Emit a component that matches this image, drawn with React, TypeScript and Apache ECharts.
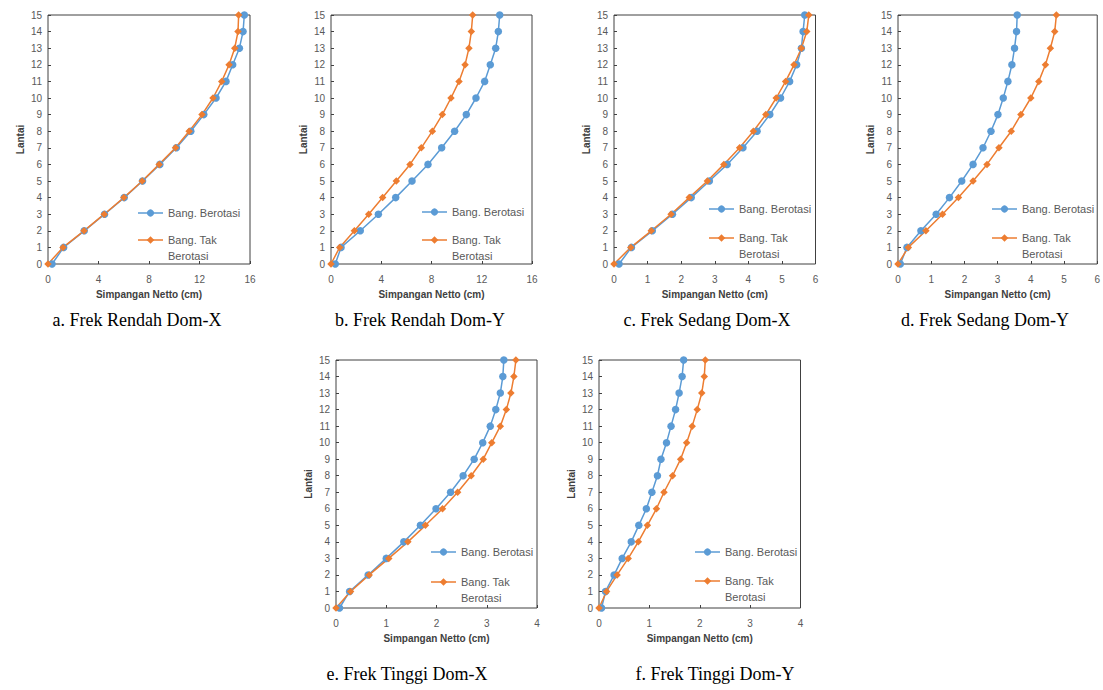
import React, { useEffect, useRef } from "react";
import * as echarts from "echarts";

// Floors (Lantai)
const floors = [0, 1, 2, 3, 4, 5, 6, 7, 8, 9, 10, 11, 12, 13, 14, 15];

// Simpangan Netto (cm) per floor
const aRot = [0.32, 1.24, 2.87, 4.48, 6.04, 7.49, 8.86, 10.17, 11.31, 12.34, 13.31, 14.1, 14.63, 15.16, 15.45, 15.55];
const aTak = [0, 1.19, 2.85, 4.45, 6.01, 7.46, 8.8, 10.1, 11.18, 12.2, 13.07, 13.76, 14.34, 14.79, 15.05, 15.1];
const bRot = [0.34, 0.8, 2.33, 3.77, 5.15, 6.45, 7.72, 8.81, 9.84, 10.77, 11.54, 12.23, 12.68, 13.11, 13.32, 13.43];
const bTak = [0, 0.69, 1.86, 3.0, 4.11, 5.2, 6.29, 7.19, 8.07, 8.86, 9.55, 10.19, 10.67, 10.98, 11.17, 11.28];
const cRot = [0.15, 0.52, 1.14, 1.74, 2.3, 2.84, 3.37, 3.84, 4.26, 4.64, 4.96, 5.23, 5.44, 5.58, 5.63, 5.68];
const cTak = [0, 0.5, 1.11, 1.7, 2.24, 2.78, 3.27, 3.74, 4.15, 4.52, 4.83, 5.11, 5.36, 5.58, 5.74, 5.8];
const dRot = [0.07, 0.27, 0.69, 1.15, 1.55, 1.92, 2.26, 2.56, 2.8, 3.01, 3.17, 3.31, 3.43, 3.51, 3.57, 3.59];
const dTak = [0, 0.31, 0.84, 1.34, 1.82, 2.26, 2.68, 3.04, 3.41, 3.7, 4.0, 4.24, 4.44, 4.59, 4.72, 4.77];
const eRot = [0.07, 0.27, 0.64, 1.0, 1.35, 1.68, 1.99, 2.28, 2.53, 2.75, 2.92, 3.07, 3.18, 3.27, 3.32, 3.34];
const eTak = [0, 0.29, 0.66, 1.05, 1.43, 1.78, 2.12, 2.42, 2.69, 2.93, 3.1, 3.27, 3.39, 3.48, 3.54, 3.58];
const fRot = [0.05, 0.13, 0.3, 0.46, 0.64, 0.79, 0.94, 1.05, 1.16, 1.23, 1.34, 1.43, 1.52, 1.59, 1.65, 1.68];
const fTak = [0, 0.15, 0.36, 0.58, 0.78, 0.96, 1.14, 1.29, 1.46, 1.62, 1.74, 1.85, 1.95, 2.04, 2.09, 2.11];

const captions = [
  "a. Frek Rendah Dom-X",
  "b. Frek Rendah Dom-Y",
  "c. Frek Sedang Dom-X",
  "d. Frek Sedang Dom-Y",
  "e. Frek Tinggi Dom-X",
  "f. Frek Tinggi Dom-Y",
];
const xMaxes = [16, 16, 6, 6, 4, 4];
const xIntervals = [4, 4, 1, 1, 1, 1];
const rotSeries = [aRot, bRot, cRot, dRot, eRot, fRot];
const takSeries = [aTak, bTak, cTak, dTak, eTak, fTak];

const nameRot = "Bang. Berotasi";
const nameTak = "Bang. Tak Berotasi";
const blue = "#5B9BD5";
const orange = "#ED7D31";
const txt = "#595959";
const sans = "'Liberation Sans', Arial, sans-serif";

// Layout (pixels)
const grids = [
  { left: 48, top: 15, width: 202, height: 249, capX: 137, capY: 319.5 },
  { left: 331, top: 15, width: 201, height: 249, capX: 420, capY: 319.5 },
  { left: 614, top: 15, width: 201.5, height: 249, capX: 707, capY: 319.5 },
  { left: 898, top: 15, width: 200.5, height: 249, capX: 985, capY: 319.5 },
  { left: 336, top: 360, width: 201, height: 248, capX: 407, capY: 673.5 },
  { left: 599, top: 360, width: 201.5, height: 248, capX: 715, capY: 673.5 },
];
const legendPos = [
  { x: 138, y: 213, gap: 27 },
  { x: 422, y: 212, gap: 28 },
  { x: 709, y: 209, gap: 29 },
  { x: 992, y: 209, gap: 29 },
  { x: 431, y: 552, gap: 30 },
  { x: 695, y: 552, gap: 29 },
];

function legendGraphic(p: { x: number; y: number; gap: number }) {
  const y2 = p.y + p.gap;
  return [
    { type: "line", shape: { x1: p.x, y1: p.y, x2: p.x + 25, y2: p.y }, style: { stroke: blue, lineWidth: 1.5 } },
    { type: "circle", shape: { cx: p.x + 12.5, cy: p.y, r: 3.6 }, style: { fill: blue } },
    {
      type: "text", x: p.x + 30, y: p.y,
      style: { text: nameRot, fill: txt, font: `11px ${sans}`, verticalAlign: "middle", align: "left" },
    },
    { type: "line", shape: { x1: p.x, y1: y2, x2: p.x + 25, y2: y2 }, style: { stroke: orange, lineWidth: 1.5 } },
    {
      type: "polygon",
      shape: { points: [[p.x + 12.5, y2 - 3.8], [p.x + 16.3, y2], [p.x + 12.5, y2 + 3.8], [p.x + 8.7, y2]] },
      style: { fill: orange },
    },
    {
      type: "text", x: p.x + 30, y: y2,
      style: { text: "Bang. Tak", fill: txt, font: `11px ${sans}`, verticalAlign: "middle", align: "left" },
    },
    {
      type: "text", x: p.x + 30, y: y2 + 16,
      style: { text: "Berotasi", fill: txt, font: `11px ${sans}`, verticalAlign: "middle", align: "left" },
    },
  ];
}

export default function App() {
  const ref = useRef<HTMLDivElement>(null);
  useEffect(() => {
    document.body.style.margin = "0";
    const chart = echarts.init(ref.current!, null, { renderer: "svg" });
    const option: any = {
      animation: false,
      backgroundColor: "#ffffff",
      grid: grids.map((g) => ({
        left: g.left, top: g.top, width: g.width, height: g.height,
        show: true, borderColor: "#404040", borderWidth: 1, backgroundColor: "transparent",
      })),
      xAxis: grids.map((_, i) => ({
        type: "value", gridIndex: i, min: 0, max: xMaxes[i], interval: xIntervals[i],
        name: "Simpangan Netto (cm)", nameLocation: "middle", nameGap: 25,
        nameTextStyle: { fontFamily: sans, fontSize: 10, fontWeight: "bold", color: "#404040" },
        axisLine: { show: false },
        axisTick: { show: true, inside: true, length: 3, lineStyle: { color: "#404040" } },
        axisLabel: { fontFamily: sans, fontSize: 10, color: txt, margin: 10 },
        splitLine: { show: false },
      })),
      yAxis: grids.map((_, i) => ({
        type: "value", gridIndex: i, min: 0, max: 15, interval: 1,
        name: "Lantai", nameLocation: "middle", nameGap: 23, nameRotate: 90,
        nameTextStyle: { fontFamily: sans, fontSize: 10, fontWeight: "bold", color: "#404040" },
        axisLine: { show: false },
        axisTick: { show: true, inside: true, length: 3, lineStyle: { color: "#404040" } },
        axisLabel: { fontFamily: sans, fontSize: 10, color: txt, margin: 6 },
        splitLine: { show: false },
      })),
      series: grids.flatMap((_, i) => [
        {
          type: "line", name: nameRot, xAxisIndex: i, yAxisIndex: i,
          data: floors.map((f, k) => [rotSeries[i][k], f]),
          symbol: "circle", symbolSize: 7.5,
          lineStyle: { color: blue, width: 1.5 }, itemStyle: { color: blue },
        },
        {
          type: "line", name: nameTak, xAxisIndex: i, yAxisIndex: i,
          data: floors.map((f, k) => [takSeries[i][k], f]),
          symbol: "diamond", symbolSize: 7.5,
          lineStyle: { color: orange, width: 1.5 }, itemStyle: { color: orange },
        },
      ]),
      graphic: [
        ...legendPos.flatMap((p) => legendGraphic(p)),
        ...grids.map((g, i) => ({
          type: "text", x: g.capX, y: g.capY,
          style: {
            text: captions[i], fill: "#000000",
            font: "18px 'Liberation Serif', 'Times New Roman', serif",
            align: "center", verticalAlign: "middle",
          },
        })),
      ],
    };
    chart.setOption(option);
    return () => chart.dispose();
  }, []);
  return <div ref={ref} style={{ width: 1103, height: 690 }} />;
}
